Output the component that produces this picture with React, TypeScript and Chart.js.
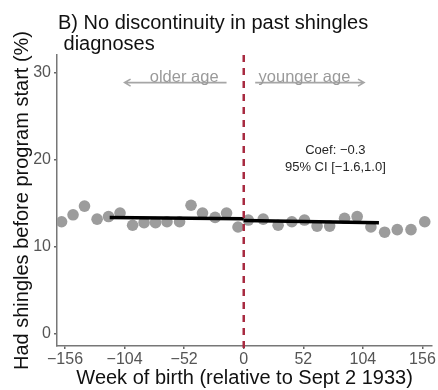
import { useEffect, useRef } from "react";
import { Chart, registerables } from "chart.js";

Chart.register(...registerables);

// ---- data ----
const leftWeeks = [-159, -149, -139, -128, -118, -108, -97, -87, -77, -67, -56, -46, -36, -25, -15, -5];
const leftShare = [12.9, 13.7, 14.7, 13.2, 13.5, 13.9, 12.5, 12.8, 12.8, 12.9, 12.9, 14.8, 13.9, 13.4, 13.9, 12.3];
const rightWeeks = [4, 17, 30, 42, 53, 64, 75, 88, 99, 111, 123, 134, 146, 158];
const rightShare = [13.1, 13.2, 12.5, 12.9, 13.1, 12.4, 12.4, 13.3, 13.5, 12.3, 11.7, 12.0, 12.0, 12.9];
const leftFitWeeks = [-117, 0];
const leftFitShare = [13.4, 13.25];
const rightFitWeeks = [0, 118];
const rightFitShare = [13.05, 12.8];
const xTicks = [-156, -104, -52, 0, 52, 104, 156];
const yTicks = [0, 10, 20, 30];
const titleLines = ["B) No discontinuity in past shingles", " diagnoses"];
const xTitle = "Week of birth (relative to Sept 2 1933)";
const yTitle = "Had shingles before program start (%)";
const olderLabel = { text: "older age", x: -52, y: 29.45, from: -15, to: -104, arrowY: 28.9 };
const youngerLabel = { text: "younger age", x: 53, y: 29.45, from: 10, to: 105, arrowY: 28.9 };
const coefLines = ["Coef: \u22120.3", "95% CI [\u22121.6,1.0]"];
const coefX = 80;
const coefY = [21.1, 19.2];
const cutoff = 0;

const FONT = "'Liberation Sans', Arial, Helvetica, sans-serif";

const fmt = (v: number) => (v < 0 ? "\u2212" + Math.abs(v) : String(v));

const overlay = {
  id: "overlay",
  afterDatasetsDraw(chart: any) {
    const { ctx, chartArea, scales } = chart;
    const xs = scales.x;
    const ys = scales.y;
    ctx.save();
    // dashed cutoff line
    const cx = xs.getPixelForValue(cutoff);
    ctx.strokeStyle = "#a82a40";
    ctx.lineWidth = 2.5;
    ctx.setLineDash([7, 6]);
    ctx.beginPath();
    ctx.moveTo(cx, chartArea.top);
    ctx.lineTo(cx, chartArea.bottom + 4);
    ctx.stroke();
    ctx.setLineDash([]);

    // age arrows
    const drawArrow = (lab: any) => {
      const y = ys.getPixelForValue(lab.arrowY);
      const x0 = xs.getPixelForValue(lab.from);
      const x1 = xs.getPixelForValue(lab.to);
      ctx.strokeStyle = "#a6a6a6";
      ctx.lineWidth = 1.6;
      ctx.beginPath();
      ctx.moveTo(x0, y);
      ctx.lineTo(x1, y);
      const dir = x1 > x0 ? -1 : 1;
      ctx.moveTo(x1 + dir * 6, y - 3.5);
      ctx.lineTo(x1, y);
      ctx.lineTo(x1 + dir * 6, y + 3.5);
      ctx.stroke();
      ctx.fillStyle = "#9a9a9a";
      ctx.font = `16.5px ${FONT}`;
      ctx.textAlign = "center";
      ctx.textBaseline = "middle";
      ctx.fillText(lab.text, xs.getPixelForValue(lab.x), ys.getPixelForValue(lab.y));
    };
    drawArrow(olderLabel);
    drawArrow(youngerLabel);

    // coefficient text
    ctx.fillStyle = "#262626";
    ctx.font = `13px ${FONT}`;
    ctx.textAlign = "center";
    ctx.textBaseline = "middle";
    coefLines.forEach((t, i) => {
      ctx.fillText(t, xs.getPixelForValue(coefX), ys.getPixelForValue(coefY[i]));
    });
    ctx.restore();
  },
  afterDraw(chart: any) {
    const { ctx } = chart;
    ctx.save();
    ctx.fillStyle = "#111";
    ctx.font = `20px ${FONT}`;
    ctx.textAlign = "left";
    ctx.textBaseline = "alphabetic";
    ctx.fillText(titleLines[0], 58, 29);
    ctx.fillText(titleLines[1], 58, 50);
    ctx.restore();
  },
};

export default function App() {
  const ref = useRef<HTMLCanvasElement | null>(null);

  useEffect(() => {
    if (!ref.current) return;
    const chart = new Chart(ref.current, {
      type: "scatter",
      data: {
        datasets: [
          {
            data: leftFitWeeks.map((x, i) => ({ x, y: leftFitShare[i] })),
            showLine: true,
            borderColor: "#000",
            borderWidth: 3.5,
            pointRadius: 0,
            order: 1,
          },
          {
            data: rightFitWeeks.map((x, i) => ({ x, y: rightFitShare[i] })),
            showLine: true,
            borderColor: "#000",
            borderWidth: 3.5,
            pointRadius: 0,
            order: 1,
          },
          {
            data: leftWeeks.map((x, i) => ({ x, y: leftShare[i] })),
            backgroundColor: "#9c9c9c",
            borderWidth: 0,
            pointRadius: 5.8,
            order: 2,
          },
          {
            data: rightWeeks.map((x, i) => ({ x, y: rightShare[i] })),
            backgroundColor: "#9c9c9c",
            borderWidth: 0,
            pointRadius: 5.8,
            order: 2,
          },
        ],
      },
      options: {
        responsive: false,
        maintainAspectRatio: false,
        animation: false,
        events: [],
        layout: { padding: { top: 55, right: 3, left: 0, bottom: 0 } },
        plugins: { legend: { display: false }, tooltip: { enabled: false }, title: { display: false } },
        scales: {
          x: {
            type: "linear",
            min: -163,
            max: 164.5,
            afterBuildTicks: (s: any) => {
              s.ticks = xTicks.map((v) => ({ value: v }));
            },
            afterFit: (s: any) => {
              s.height = 44;
              s.paddingLeft = 0;
              s.paddingRight = 0;
            },
            ticks: {
              font: { size: 16, family: FONT },
              color: "#555",
              padding: 1,
              maxRotation: 0,
              autoSkip: false,
              callback: (v: any) => fmt(Number(v)),
            },
            grid: { drawOnChartArea: false, drawTicks: true, tickLength: 3, color: "#666", lineWidth: 1.5 },
            border: { display: true, color: "#777", width: 1.5 },
            title: {
              display: true,
              text: xTitle,
              font: { size: 20, family: FONT },
              color: "#111",
              padding: { top: 0, bottom: 0 },
            },
          },
          y: {
            type: "linear",
            min: -1.38,
            max: 32.07,
            afterBuildTicks: (s: any) => {
              s.ticks = yTicks.map((v) => ({ value: v }));
            },
            afterFit: (s: any) => {
              s.width = 57;
              s.paddingTop = 0;
              s.paddingBottom = 0;
            },
            ticks: {
              font: { size: 16, family: FONT },
              color: "#555",
              padding: 3,
              callback: (v: any) => fmt(Number(v)),
            },
            grid: { drawOnChartArea: false, drawTicks: true, tickLength: 3, color: "#666", lineWidth: 1.5 },
            border: { display: true, color: "#777", width: 1.5 },
            title: {
              display: true,
              text: yTitle,
              font: { size: 20, family: FONT },
              color: "#111",
              padding: { top: 10, bottom: 0 },
            },
          },
        },
      },
      plugins: [overlay],
    } as any);
    return () => chart.destroy();
  }, []);

  return (
    <div style={{ position: "fixed", left: 0, top: 0, width: 438, height: 390, background: "#fff" }}>
      <canvas ref={ref} width={438} height={390} style={{ display: "block", width: 438, height: 390 }} />
    </div>
  );
}
